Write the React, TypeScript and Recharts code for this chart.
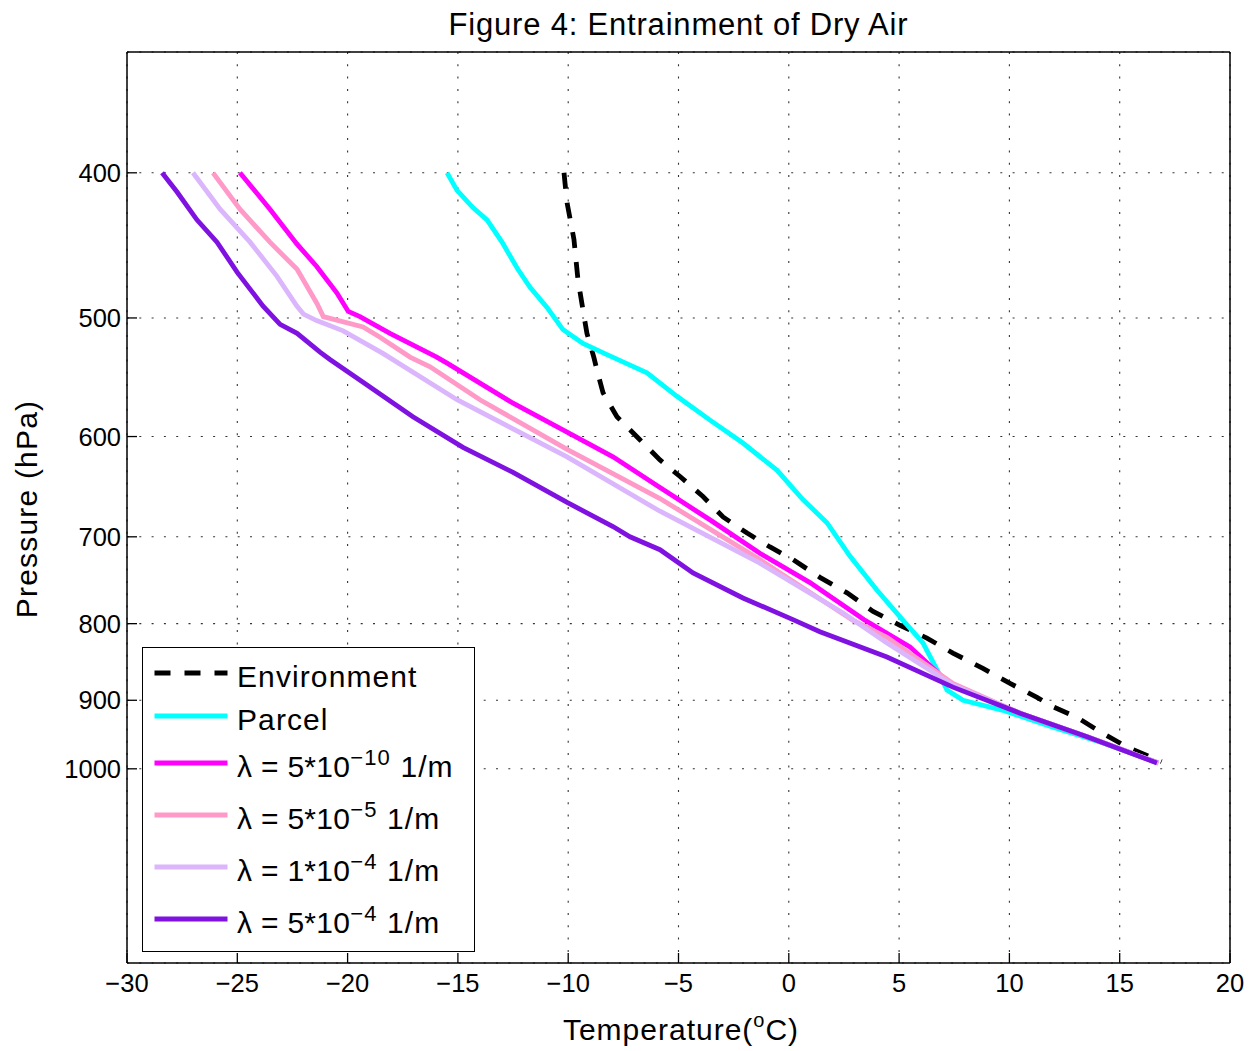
import React from 'react';
import { LineChart, Line, XAxis, YAxis, CartesianGrid, Legend } from 'recharts';

type Pt = { t: number; p: number };

// Temperature (°C) against pressure (hPa) for each sounding
const environment: Pt[] = [
  { t: -10.19, p: 400 }, { t: -10.14, p: 407 }, { t: -10.05, p: 419 }, { t: -9.74, p: 443 },
  { t: -9.56, p: 471 }, { t: -9.33, p: 494 }, { t: -9.15, p: 512 }, { t: -8.84, p: 531 },
  { t: -8.65, p: 545 }, { t: -8.42, p: 561 }, { t: -7.79, p: 582 }, { t: -6.75, p: 603 },
  { t: -5.84, p: 622 }, { t: -4.93, p: 638 }, { t: -3.89, p: 658 }, { t: -2.98, p: 679 },
  { t: -1.89, p: 696 }, { t: -0.85, p: 711 }, { t: 0.19, p: 725 }, { t: 1.41, p: 745 },
  { t: 2.64, p: 763 }, { t: 3.82, p: 785 }, { t: 5.04, p: 802 }, { t: 6.26, p: 818 },
  { t: 7.44, p: 837 }, { t: 8.8, p: 857 }, { t: 10.03, p: 877 }, { t: 11.25, p: 896 },
  { t: 11.98, p: 909 }, { t: 13.06, p: 924 }, { t: 14.24, p: 947 }, { t: 15.33, p: 967 },
  { t: 16.9, p: 989 },
];

const parcel: Pt[] = [
  { t: -15.49, p: 400 }, { t: -15.04, p: 411 }, { t: -14.32, p: 422 }, { t: -13.68, p: 430 },
  { t: -13.0, p: 445 }, { t: -12.28, p: 464 }, { t: -11.73, p: 477 }, { t: -10.96, p: 492 },
  { t: -10.24, p: 509 }, { t: -9.33, p: 520 }, { t: -8.24, p: 529 }, { t: -6.43, p: 544 },
  { t: -5.07, p: 564 }, { t: -3.57, p: 585 }, { t: -2.08, p: 606 }, { t: -0.53, p: 632 },
  { t: 0.64, p: 661 }, { t: 1.73, p: 685 }, { t: 2.77, p: 721 }, { t: 4.0, p: 760 },
  { t: 5.18, p: 796 }, { t: 6.08, p: 824 }, { t: 6.72, p: 859 }, { t: 7.17, p: 886 },
  { t: 7.9, p: 900 }, { t: 9.71, p: 914 }, { t: 11.98, p: 938 }, { t: 14.24, p: 961 },
  { t: 16.75, p: 991 },
];

const lambda5e10: Pt[] = [
  { t: -24.88, p: 400 }, { t: -23.52, p: 423 }, { t: -22.31, p: 446 }, { t: -21.4, p: 462 },
  { t: -20.49, p: 481 }, { t: -19.97, p: 495 }, { t: -19.44, p: 499 }, { t: -18.08, p: 512 },
  { t: -15.96, p: 531 }, { t: -15.49, p: 536 }, { t: -12.5, p: 570 }, { t: -10.05, p: 596 },
  { t: -7.97, p: 619 }, { t: -5.84, p: 649 }, { t: -3.57, p: 682 }, { t: -1.31, p: 718 },
  { t: 0.96, p: 751 }, { t: 3.4, p: 795 }, { t: 5.49, p: 829 }, { t: 6.99, p: 869 },
  { t: 7.62, p: 882 }, { t: 10.48, p: 918 }, { t: 13.52, p: 952 }, { t: 16.75, p: 991 },
];

const lambda5e5: Pt[] = [
  { t: -26.1, p: 400 }, { t: -24.88, p: 423 }, { t: -23.52, p: 445 }, { t: -22.29, p: 464 },
  { t: -21.39, p: 489 }, { t: -21.1, p: 499 }, { t: -19.3, p: 507 }, { t: -18.53, p: 515 },
  { t: -17.17, p: 531 }, { t: -16.26, p: 539 }, { t: -14.0, p: 567 }, { t: -10.05, p: 612 },
  { t: -5.84, p: 660 }, { t: -1.31, p: 725 }, { t: 2.91, p: 796 }, { t: 4.45, p: 817 },
  { t: 7.44, p: 877 }, { t: 10.48, p: 918 }, { t: 13.52, p: 952 }, { t: 16.75, p: 991 },
];

const lambda1e4: Pt[] = [
  { t: -27.01, p: 400 }, { t: -25.78, p: 423 }, { t: -24.42, p: 445 }, { t: -23.2, p: 469 },
  { t: -22.3, p: 491 }, { t: -22.0, p: 497 }, { t: -21.4, p: 502 }, { t: -20.2, p: 510 },
  { t: -18.4, p: 528 }, { t: -15.04, p: 567 }, { t: -10.05, p: 619 }, { t: -5.84, p: 673 },
  { t: -1.31, p: 729 }, { t: 2.46, p: 787 }, { t: 4.45, p: 824 }, { t: 7.44, p: 879 },
  { t: 10.48, p: 918 }, { t: 13.52, p: 952 }, { t: 16.75, p: 991 },
];

const lambda5e4: Pt[] = [
  { t: -28.41, p: 400 }, { t: -27.73, p: 412 }, { t: -26.83, p: 430 }, { t: -25.92, p: 445 },
  { t: -25.01, p: 466 }, { t: -23.83, p: 491 }, { t: -23.06, p: 505 }, { t: -22.29, p: 512 },
  { t: -21.25, p: 527 }, { t: -20.8, p: 533 }, { t: -19.3, p: 552 }, { t: -17.04, p: 582 },
  { t: -14.77, p: 610 }, { t: -12.5, p: 634 }, { t: -10.05, p: 664 }, { t: -7.97, p: 689 },
  { t: -7.2, p: 700 }, { t: -5.84, p: 714 }, { t: -4.34, p: 740 }, { t: -2.08, p: 769 },
  { t: 0.19, p: 795 }, { t: 1.41, p: 810 }, { t: 4.45, p: 842 }, { t: 7.44, p: 882 },
  { t: 10.48, p: 918 }, { t: 13.52, p: 952 }, { t: 16.69, p: 991 },
];

const temperatureTicks = [-30, -25, -20, -15, -10, -5, 0, 5, 10, 15, 20];
const pressureTicks = [400, 500, 600, 700, 800, 900, 1000];
const temperatureDomain: [number, number] = [-30, 20];
const pressureDomain: [number, number] = [332.2, 1347.9];

const titleText = 'Figure 4: Entrainment of Dry Air';
const xLabelMain = 'Temperature(';
const xLabelSup = 'o';
const xLabelEnd = 'C)';
const yLabelText = 'Pressure (hPa)';

const plainNames = ['Environment', 'Parcel'];
const lambdaMantissa = ['5', '5', '1', '5'];
const lambdaExponent = ['\u221210', '\u22125', '\u22124', '\u22124'];

type Series = {
  key: string;
  data: Pt[];
  color: string;
  dash?: string;
  plain?: string;
  mant?: string;
  exp?: string;
};

const series: Series[] = [
  { key: 'env', data: environment, color: '#000000', dash: '16 14', plain: plainNames[0] },
  { key: 'parcel', data: parcel, color: '#00FFFF', plain: plainNames[1] },
  { key: 'l1', data: lambda5e10, color: '#FF00FF', mant: lambdaMantissa[0], exp: lambdaExponent[0] },
  { key: 'l2', data: lambda5e5, color: '#FF99C8', mant: lambdaMantissa[1], exp: lambdaExponent[1] },
  { key: 'l3', data: lambda1e4, color: '#DBB6FC', mant: lambdaMantissa[2], exp: lambdaExponent[2] },
  { key: 'l4', data: lambda5e4, color: '#7F12E0', mant: lambdaMantissa[3], exp: lambdaExponent[3] },
];

const FONT = '"Liberation Sans", Arial, Helvetica, sans-serif';
const LINE_W = 4.8;

const fmtTemp = (v: number) => (v < 0 ? '\u2212' + Math.abs(v) : String(v));

const XLabel = () => (
  <text x={681} y={1040} textAnchor="middle" fontFamily={FONT} fontSize={30} letterSpacing={1} fill="#000">
    {xLabelMain}
    <tspan dy={-13} fontSize={20}>{xLabelSup}</tspan>
    <tspan dy={13}>{xLabelEnd}</tspan>
  </text>
);

const YLabel = () => (
  <text
    transform="translate(37,509) rotate(-90)"
    textAnchor="middle"
    fontFamily={FONT}
    fontSize={30}
    letterSpacing={1.2}
    fill="#000"
  >
    {yLabelText}
  </text>
);

const rowHeights = [44, 42, 52, 52, 53, 50];

const LegendBox = () => (
  <div
    style={{
      width: 333,
      height: 305,
      boxSizing: 'border-box',
      border: '1.5px solid #000',
      background: '#fff',
      fontFamily: FONT,
      fontSize: 30,
      color: '#000',
      paddingTop: 2.5,
      letterSpacing: 1.1,
    }}
  >
    {series.map((s, i) => (
      <div key={s.key} style={{ height: rowHeights[i], display: 'flex', alignItems: 'center' }}>
        <svg width={94} height={10} style={{ flex: 'none', display: 'block' }}>
          <line
            x1={11.5}
            x2={84.5}
            y1={5}
            y2={5}
            stroke={s.color}
            strokeWidth={LINE_W}
            strokeDasharray={s.dash}
          />
        </svg>
        <span style={{ position: 'relative', top: 4, whiteSpace: 'nowrap', lineHeight: '30px' }}>
          {s.plain ? (
            s.plain
          ) : (
            <>
              <span style={{ letterSpacing: 0.3 }}>{'\u03BB = ' + s.mant + '*10'}</span>
              <span style={{ fontSize: 22, position: 'relative', top: -12, lineHeight: 0 }}>{s.exp}</span>
              {' 1/m'}
            </>
          )}
        </span>
      </div>
    ))}
  </div>
);

export default function App() {
  const tickStyle = { fill: '#000', fontSize: 25.5, fontFamily: FONT };
  const axisLine = { stroke: '#000', strokeWidth: 1.5 };
  const tickLine = { stroke: '#000', strokeWidth: 1.3 };
  return (
    <div style={{ position: 'absolute', left: 0, top: 0, width: 1254, height: 1051, background: '#fff' }}>
      <div
        style={{
          position: 'absolute',
          left: 127,
          width: 1103,
          top: 9,
          textAlign: 'center',
          fontFamily: FONT,
          fontSize: 31,
          lineHeight: '31px',
          letterSpacing: 0.8,
          color: '#000',
          whiteSpace: 'nowrap',
        }}
      >
        {titleText}
      </div>
      <LineChart width={1254} height={1051} margin={{ top: 51, right: 23, bottom: 0, left: 0 }}>
        <CartesianGrid stroke="#333" strokeWidth={1.1} strokeDasharray="2 10.3" />
        <XAxis
          xAxisId={0}
          type="number"
          dataKey="t"
          orientation="bottom"
          domain={temperatureDomain}
          ticks={temperatureTicks}
          interval={0}
          height={88}
          tickSize={-10}
          tickMargin={21}
          tickFormatter={fmtTemp}
          tick={tickStyle}
          axisLine={axisLine}
          tickLine={tickLine}
          label={XLabel}
        />
        <XAxis
          xAxisId="top"
          type="number"
          dataKey="t"
          orientation="top"
          domain={temperatureDomain}
          ticks={temperatureTicks}
          interval={0}
          height={1}
          tickSize={-10}
          tick={false}
          axisLine={axisLine}
          tickLine={tickLine}
        />
        <YAxis
          yAxisId={0}
          type="number"
          scale="log"
          domain={pressureDomain}
          allowDataOverflow
          reversed
          ticks={pressureTicks}
          interval={0}
          width={127}
          tickSize={-10}
          tickMargin={16}
          tick={tickStyle}
          axisLine={axisLine}
          tickLine={tickLine}
          label={YLabel}
        />
        <YAxis
          yAxisId="right"
          orientation="right"
          type="number"
          scale="log"
          domain={pressureDomain}
          allowDataOverflow
          reversed
          ticks={pressureTicks}
          interval={0}
          width={1}
          tickSize={-10}
          tick={false}
          axisLine={axisLine}
          tickLine={tickLine}
        />
        <Legend
          layout="vertical"
          align="center"
          verticalAlign="middle"
          content={() => <LegendBox />}
          wrapperStyle={{ left: 142, top: 647, width: 333, height: 305 }}
        />
        {series.map((s) => (
          <Line
            key={s.key}
            data={s.data}
            dataKey="p"
            xAxisId={0}
            yAxisId={0}
            type="linear"
            stroke={s.color}
            strokeWidth={LINE_W}
            strokeDasharray={s.dash}
            dot={false}
            activeDot={false}
            isAnimationActive={false}
          />
        ))}
      </LineChart>
    </div>
  );
}
